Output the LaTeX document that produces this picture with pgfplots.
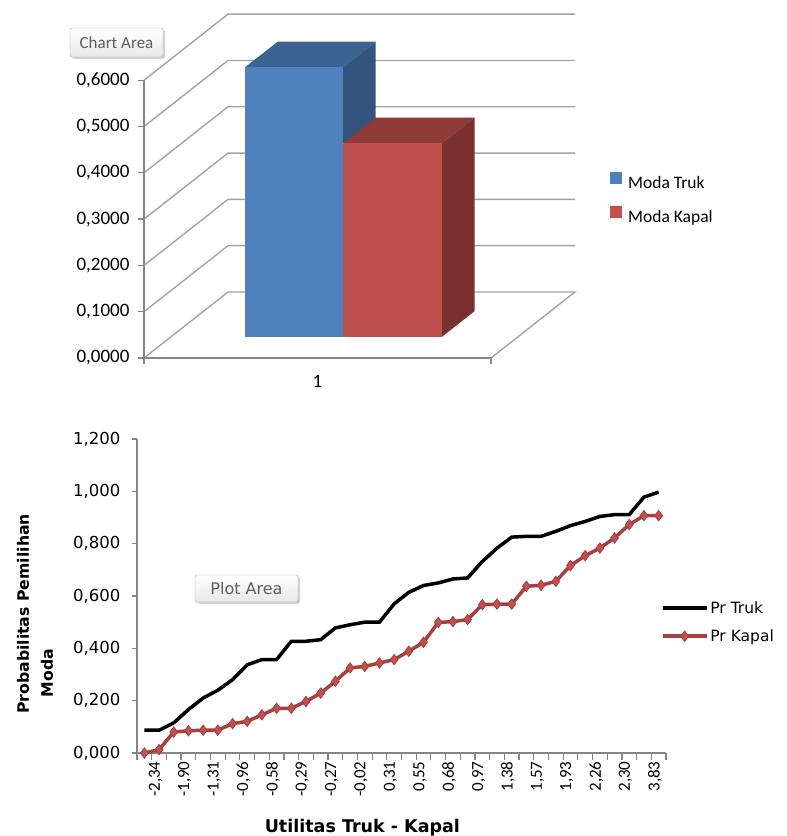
\documentclass[border=0pt]{standalone}
\usepackage{fontspec}
\setmainfont{Carlito}
\newfontfamily\dejavu{DejaVu Sans}
\usepackage{pgfplots}
\pgfplotsset{compat=1.18}
\usetikzlibrary{shadows}

\definecolor{trukfront}{HTML}{4F81BD}
\definecolor{truktop}{HTML}{3D6491}
\definecolor{trukside}{HTML}{32547F}
\definecolor{kapalfront}{HTML}{C0504D}
\definecolor{kapaltop}{HTML}{8E3A38}
\definecolor{kapalside}{HTML}{7A302F}
\definecolor{wallgrid}{HTML}{A3A3A3}
\definecolor{axisgray}{HTML}{868686}
\definecolor{kapalline}{HTML}{A5403E}
\definecolor{kapalmark}{HTML}{C0504D}
\definecolor{tipgray}{HTML}{5F5F5F}

\begin{document}
\begin{tikzpicture}
\path[use as bounding box] (0,0) rectangle (787bp,836bp);

% ---------- top chart: walls and 3-D bars ----------
\begin{axis}[
  at={(144bp,478bp)}, anchor=origin,
  x={(1bp,0bp)}, y={(84bp,66bp)}, z={(0bp,463bp)},
  xmin=0, xmax=347, ymin=0, ymax=1, zmin=0, zmax=0.6,
  hide axis, clip=false,
]
\addplot3[wallgrid, line width=1.4bp] coordinates {(0,0,0) (0,1,0) (347,1,0) (347,0,0)};
\addplot3[wallgrid, line width=1.4bp] coordinates {(0,0,0.1) (0,1,0.1) (347,1,0.1)};
\addplot3[wallgrid, line width=1.4bp] coordinates {(0,0,0.2) (0,1,0.2) (347,1,0.2)};
\addplot3[wallgrid, line width=1.4bp] coordinates {(0,0,0.3) (0,1,0.3) (347,1,0.3)};
\addplot3[wallgrid, line width=1.4bp] coordinates {(0,0,0.4) (0,1,0.4) (347,1,0.4)};
\addplot3[wallgrid, line width=1.4bp] coordinates {(0,0,0.5) (0,1,0.5) (347,1,0.5)};
\addplot3[wallgrid, line width=1.4bp] coordinates {(0,0,0.6) (0,1,0.6) (347,1,0.6)};
% Moda Truk
\addplot3[fill=truktop, draw=none] coordinates {(74,0.32,0.582) (172,0.32,0.582) (172,0.71,0.582) (74,0.71,0.582)};
\addplot3[fill=trukside, draw=none] coordinates {(172,0.32,0) (172,0.71,0) (172,0.71,0.582) (172,0.32,0.582)};
\addplot3[fill=trukfront, draw=none] coordinates {(74,0.32,0) (172,0.32,0) (172,0.32,0.582) (74,0.32,0.582)};
% Moda Kapal
\addplot3[fill=kapaltop, draw=none] coordinates {(172,0.32,0.418) (271,0.32,0.418) (271,0.71,0.418) (172,0.71,0.418)};
\addplot3[fill=kapalside, draw=none] coordinates {(271,0.32,0) (271,0.71,0) (271,0.71,0.418) (271,0.32,0.418)};
\addplot3[fill=kapalfront, draw=none] coordinates {(172,0.32,0) (271,0.32,0) (271,0.32,0.418) (172,0.32,0.418)};
\end{axis}

% ---------- top chart: front axes and legend ----------
\begin{axis}[
  at={(144bp,478bp)}, anchor=origin,
  x={(1bp,0bp)}, y={(0bp,463bp)},
  xmin=0, xmax=347, ymin=0, ymax=0.6,
  axis x line*=bottom, axis y line*=left,
  axis line style={axisgray, line width=1.2bp},
  tick style={axisgray, line width=1.2bp},
  tick align=outside, major tick length=6bp,
  ytick={0,0.1,0.2,0.3,0.4,0.5,0.6},
  yticklabel style={font=\fontsize{19bp}{22bp}\selectfont, xshift=-5bp,
    /pgf/number format/fixed, /pgf/number format/fixed zerofill,
    /pgf/number format/precision=4, /pgf/number format/use comma,
    /pgf/number format/assume math mode=true},
  xtick={0,347}, xticklabels={,},
  extra x ticks={173.5}, extra x tick labels={1},
  extra x tick style={major tick length=0pt,
    xticklabel style={font=\fontsize{19bp}{22bp}\selectfont, yshift=-14bp}},
  legend style={at={(axis description cs:1.343,0.669)}, anchor=north west,
    draw=none, fill=none, font=\fontsize{17.5bp}{20bp}\selectfont,
    row sep=14bp, inner sep=0pt},
  legend cell align=left,
  legend image code/.code={\fill[#1] (0bp,-1bp) rectangle (12bp,11bp);},
  /tikz/every odd column/.append style={column sep=4bp},
]
\addlegendimage{fill=trukfront, draw=none}
\addlegendentry{Moda Truk}
\addlegendimage{fill=kapalfront, draw=none}
\addlegendentry{Moda Kapal}
\end{axis}

% ---------- bottom chart: choice probability against utility ----------
\begin{axis}[
  at={(144.35bp,83bp)}, anchor=origin,
  x={(14.694bp,0bp)}, y={(0bp,261.67bp)},
  xmin=-0.5, xmax=35.5, ymin=0, ymax=1.2,
  axis x line*=bottom, axis y line*=left,
  axis line style={axisgray, line width=1.2bp},
  tick style={axisgray, line width=1.2bp},
  tick align=outside, major tick length=5bp, minor tick length=7bp,
  ytick={0,0.2,0.4,0.6,0.8,1.0,1.2},
  yticklabel style={font=\dejavu\fontsize{16.5bp}{19bp}\selectfont, xshift=-8bp,
    /pgf/number format/fixed, /pgf/number format/fixed zerofill,
    /pgf/number format/precision=3, /pgf/number format/use comma,
    /pgf/number format/assume math mode=true},
  xtick={0,2,4,6,8,10,12,14,16,18,20,22,24,26,28,30,32,34},
  xticklabels={{-2,34},{-1,90},{-1,31},{-0,96},{-0,58},{-0,29},{-0,27},{-0,02},{0,31},
    {0,55},{0,68},{0,97},{1,38},{1,57},{1,93},{2,26},{2,30},{3,83}},
  major x tick style={draw=none},
  minor xtick={-0.5,0.5,...,35.5},
  xticklabel style={rotate=90, anchor=east, font=\fontsize{17bp}{19bp}\selectfont, yshift=-11bp},
  xlabel={Utilitas Truk - Kapal},
  every axis x label/.style={at={(axis description cs:0.426,-0.237)}, anchor=center,
    font=\dejavu\bfseries\fontsize{17.5bp}{20bp}\selectfont},
  ylabel={Probabilitas Pemilihan\\Moda\hspace*{118bp}},
  every axis y label/.style={at={(axis description cs:-0.193,0.443)}, anchor=center,
    rotate=90, align=center, font=\dejavu\bfseries\fontsize{15.7bp}{24bp}\selectfont},
  legend style={at={(axis description cs:0.99,0.417)}, anchor=west,
    draw=none, fill=none, font=\dejavu\fontsize{15.5bp}{18bp}\selectfont,
    row sep=11bp, inner sep=0pt},
  legend cell align=left,
  legend image code/.code={\draw[#1, mark repeat=2, mark phase=2]
    plot coordinates {(0bp,0bp) (22bp,0bp) (44bp,0bp)};},
]
\addplot[black, line width=3.5bp] coordinates {
  (0,0.087) (1,0.087) (2,0.115) (3,0.166) (4,0.210) (5,0.240) (6,0.280) (7,0.337)
  (8,0.357) (9,0.357) (10,0.427) (11,0.427) (12,0.433) (13,0.478) (14,0.490) (15,0.500)
  (16,0.500) (17,0.570) (18,0.614) (19,0.640) (20,0.650) (21,0.665) (22,0.669) (23,0.732)
  (24,0.783) (25,0.825) (26,0.828) (27,0.828) (28,0.847) (29,0.869) (30,0.885) (31,0.904)
  (32,0.911) (33,0.911) (34,0.978) (35,0.997)};
\addlegendentry{Pr Truk}
\addplot[kapalline, line width=3.5bp, mark=diamond*, mark size=5.2bp,
  mark options={fill=kapalmark, draw=kapalline, line width=0.8bp}] coordinates {
  (0,0.000) (1,0.013) (2,0.080) (3,0.085) (4,0.087) (5,0.087) (6,0.112) (7,0.121)
  (8,0.146) (9,0.171) (10,0.171) (11,0.197) (12,0.229) (13,0.274) (14,0.325) (15,0.331)
  (16,0.344) (17,0.357) (18,0.389) (19,0.423) (20,0.499) (21,0.502) (22,0.510) (23,0.567)
  (24,0.569) (25,0.569) (26,0.637) (27,0.641) (28,0.656) (29,0.716) (30,0.754) (31,0.783)
  (32,0.822) (33,0.873) (34,0.907) (35,0.907)};
\addlegendentry{Pr Kapal}
\end{axis}

% ---------- hover tips ----------
\node[draw=gray!70, rounded corners=2bp, top color=white, bottom color=gray!18,
  drop shadow={shadow xshift=2bp, shadow yshift=-2bp, opacity=0.35},
  minimum width=93bp, minimum height=29bp, inner sep=0pt, text=tipgray,
  font=\fontsize{17bp}{20bp}\selectfont] at (116.5bp,793.5bp) {Chart Area};
\node[draw=gray!70, rounded corners=2bp, top color=white, bottom color=gray!18,
  drop shadow={shadow xshift=2bp, shadow yshift=-2bp, opacity=0.35},
  minimum width=103bp, minimum height=27bp, inner sep=0pt, text=tipgray,
  font=\dejavu\fontsize{16bp}{19bp}\selectfont] at (246.5bp,247.5bp) {Plot Area};
\end{tikzpicture}
\end{document}
